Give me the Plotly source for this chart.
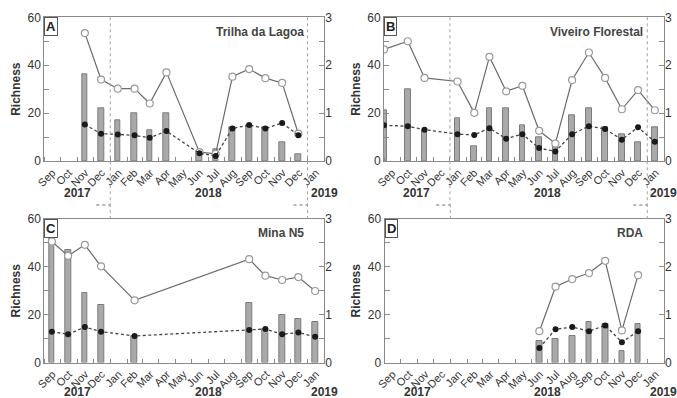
import plotly.graph_objects as go

# ---------------- data ----------------
sites = ["Trilha da Lagoa", "Viveiro Florestal", "Mina N5", "RDA"]
letters = ["A", "B", "C", "D"]

a_dates = ["2017-11-15", "2017-12-15", "2018-01-15", "2018-02-15", "2018-03-15", "2018-04-15",
           "2018-06-15", "2018-07-15", "2018-08-15", "2018-09-15", "2018-10-15", "2018-11-15", "2018-12-15"]
a_richness = [36, 22, 17, 20, 13, 20, 4, 5, 14, 15, 14, 8, 3]
a_diversity = [2.67, 1.70, 1.51, 1.51, 1.20, 1.85, 0.185, 0.15, 1.76, 1.92, 1.73, 1.63, 0.57]
a_evenness = [0.76, 0.57, 0.555, 0.535, 0.485, 0.625, 0.16, 0.105, 0.68, 0.75, 0.68, 0.795, 0.535]

b_dates = ["2017-09-01", "2017-10-15", "2017-11-15", "2018-01-15", "2018-02-15", "2018-03-15", "2018-04-15",
           "2018-05-15", "2018-06-15", "2018-07-15", "2018-08-15", "2018-09-15", "2018-10-15", "2018-11-15",
           "2018-12-15", "2019-01-15"]
b_richness = [21, 30, 13, 18, 6, 22, 22, 15, 10, 6, 19, 22, 14, 11, 8, 14]
b_diversity = [2.33, 2.50, 1.735, 1.66, 1.005, 2.175, 1.455, 1.57, 0.63, 0.365, 1.69, 2.265, 1.735, 1.08, 1.48, 1.06]
b_evenness = [0.745, 0.725, 0.655, 0.56, 0.545, 0.685, 0.465, 0.56, 0.27, 0.20, 0.56, 0.725, 0.67, 0.445, 0.705, 0.40]

c_dates = ["2017-09-15", "2017-10-15", "2017-11-15", "2017-12-15", "2018-02-15", "2018-09-15",
           "2018-10-15", "2018-11-15", "2018-12-15", "2019-01-15"]
c_richness = [52, 47, 29, 24, 11, 25, 14, 20, 18, 17]
c_diversity = [2.53, 2.23, 2.46, 2.01, 1.30, 2.16, 1.815, 1.725, 1.785, 1.495]
c_evenness = [0.645, 0.59, 0.74, 0.645, 0.555, 0.68, 0.70, 0.59, 0.625, 0.54]

d_dates = ["2018-06-15", "2018-07-15", "2018-08-15", "2018-09-15", "2018-10-15", "2018-11-15", "2018-12-15"]
d_richness = [9, 10, 11, 17, 16, 5, 16]
d_diversity = [0.655, 1.585, 1.745, 1.87, 2.125, 0.67, 1.825]
d_evenness = [0.305, 0.695, 0.74, 0.655, 0.775, 0.425, 0.655]

panels = [
    (a_dates, a_richness, a_diversity, a_evenness),
    (b_dates, b_richness, b_diversity, b_evenness),
    (c_dates, c_richness, c_diversity, c_evenness),
    (d_dates, d_richness, d_diversity, d_evenness),
]

year_labels = ["2017", "2018", "2019"]
year_centers = ["2017-11-01", "2018-07-01", "2019-01-01"]
year_breaks = ["2018-01-01", "2019-01-01"]
x_range = ["2017-09-01", "2019-02-01"]

# ---------------- layout geometry ----------------
W, H = 677, 398
def px_x(v): return v / W
def px_y(v): return (H - v) / H

x_domains = [(44.3, 324.3), (384.0, 664.0), (44.3, 324.3), (384.5, 664.0)]
y_domains = [(17.3, 161.0), (17.3, 161.0), (219.0, 362.5), (219.0, 362.5)]
year_y = [193, 193, 392, 392]

FRAME = "#8a8a8a"
TXT = "#333333"
FONT = "Liberation Sans, Arial, sans-serif"
BAR_W = 10.5 * 86400000

fig = go.Figure()
layout = dict(
    width=W, height=H, autosize=False,
    margin=dict(l=0, r=0, t=0, b=0, pad=0, autoexpand=False),
    paper_bgcolor="white", plot_bgcolor="white",
    showlegend=False,
    font=dict(family=FONT, color=TXT, size=12),
    bargap=0,
)
shapes = []
annotations = []

for i, (dates, rich, div, eve) in enumerate(panels):
    xa = "x" if i == 0 else f"x{i+1}"
    yl = f"y{2*i+1}" if i > 0 else "y"
    yr = f"y{2*i+2}"
    xa_key = "xaxis" if i == 0 else f"xaxis{i+1}"
    yl_key = "yaxis" if i == 0 else f"yaxis{2*i+1}"
    yr_key = f"yaxis{2*i+2}"

    fig.add_trace(go.Bar(x=dates, y=rich, width=BAR_W, xaxis=xa, yaxis=yl,
                         marker=dict(color="#a9a9a9", line=dict(color="#7c7c7c", width=1)),
                         name="Richness"))
    fig.add_trace(go.Scatter(x=dates, y=div, xaxis=xa, yaxis=yr, mode="lines+markers",
                             line=dict(color="#6a6a6a", width=1.2),
                             marker=dict(symbol="circle", size=7, color="white",
                                         line=dict(color="#9a9a9a", width=1.2)),
                             name="Diversity"))
    fig.add_trace(go.Scatter(x=dates, y=eve, xaxis=xa, yaxis=yr, mode="lines+markers",
                             line=dict(color="#444444", width=1.3, dash="3px,2.5px"),
                             marker=dict(symbol="circle", size=6, color="#1a1a1a"),
                             name="Evenness"))

    xd = [px_x(x_domains[i][0]), px_x(x_domains[i][1])]
    yd = [px_y(y_domains[i][1]), px_y(y_domains[i][0])]
    dom_h = y_domains[i][1] - y_domains[i][0]

    layout[xa_key] = dict(
        domain=xd, anchor=yl, type="date", range=x_range,
        dtick="M1", tick0="2017-09-01", tickformat="%b", ticklabelmode="period",
        tickangle=-45, ticks="inside", ticklen=4, tickcolor=FRAME,
        showline=True, linecolor=FRAME, linewidth=1, mirror=True,
        showgrid=False, zeroline=False, automargin=False,
        tickfont=dict(size=11, color=TXT, family=FONT),
    )
    layout[yl_key] = dict(
        domain=yd, anchor=xa, range=[0, 60], dtick=20, tick0=0,
        ticks="inside", ticklen=5, tickcolor=FRAME,
        minor=dict(dtick=10, ticks="inside", ticklen=5, tickcolor=FRAME),
        showline=True, linecolor=FRAME, linewidth=1, mirror=True,
        showgrid=False, zeroline=False, automargin=False,
        tickfont=dict(size=12, color=TXT, family=FONT),
        title=dict(text="<b>Richness</b>", font=dict(size=12, color=TXT, family=FONT), standoff=4),
    )
    layout[yr_key] = dict(
        overlaying=yl, side="right", anchor=xa, range=[0, 3], dtick=1, tick0=0,
        ticks="inside", ticklen=5, tickcolor=FRAME,
        minor=dict(dtick=0.5, ticks="inside", ticklen=5, tickcolor=FRAME),
        showline=False, showgrid=False, zeroline=False, automargin=False,
        tickfont=dict(size=12, color=TXT, family=FONT),
    )

    # year separators (dotted L-shapes)
    drop = -(205 - y_domains[i][1]) / dom_h
    for yb in year_breaks:
        shapes.append(dict(type="line", xref=xa, yref=f"{yl} domain", x0=yb, x1=yb, y0=1, y1=drop,
                           line=dict(color="#a0a0a0", width=1, dash="dot"), layer="above"))
        shapes.append(dict(type="line", xref=xa, yref=f"{yl} domain",
                           x0=-14, x1=0, y0=drop, y1=drop,
                           xsizemode="pixel", xanchor=yb,
                           line=dict(color="#a0a0a0", width=1, dash="dot"), layer="above"))

    # year labels
    ypaper = px_y(year_y[i])
    for lab, xc in zip(year_labels, year_centers):
        last = lab == "2019"
        annotations.append(dict(text=f"<b>{lab}</b>", xref=xa, yref="paper", x=xc, y=ypaper,
                                xanchor="left" if last else "center", yanchor="middle",
                                xshift=1 if last else 0, showarrow=False,
                                font=dict(size=12, color=TXT, family=FONT)))
    # panel letter
    annotations.append(dict(text=f"<b>{letters[i]}</b>", xref=f"{xa} domain", yref=f"{yl} domain",
                            x=0, y=1, xanchor="left", yanchor="top", showarrow=False,
                            bordercolor="#555555", borderwidth=1, borderpad=1, bgcolor="white",
                            font=dict(size=13, color="#222222", family=FONT)))
    # site name
    annotations.append(dict(text=f"<b>{sites[i]}</b>", xref=xa, yref=f"{yl} domain",
                            x="2019-01-01", y=0.9, xanchor="right", yanchor="middle", xshift=-2,
                            showarrow=False, font=dict(size=12, color="#444444", family=FONT)))

layout["shapes"] = shapes
layout["annotations"] = annotations
fig.update_layout(**layout)
fig.write_html("out.html",
               config={"displayModeBar": False},
               post_script="document.body.style.margin='0';document.body.style.overflow='hidden';")
